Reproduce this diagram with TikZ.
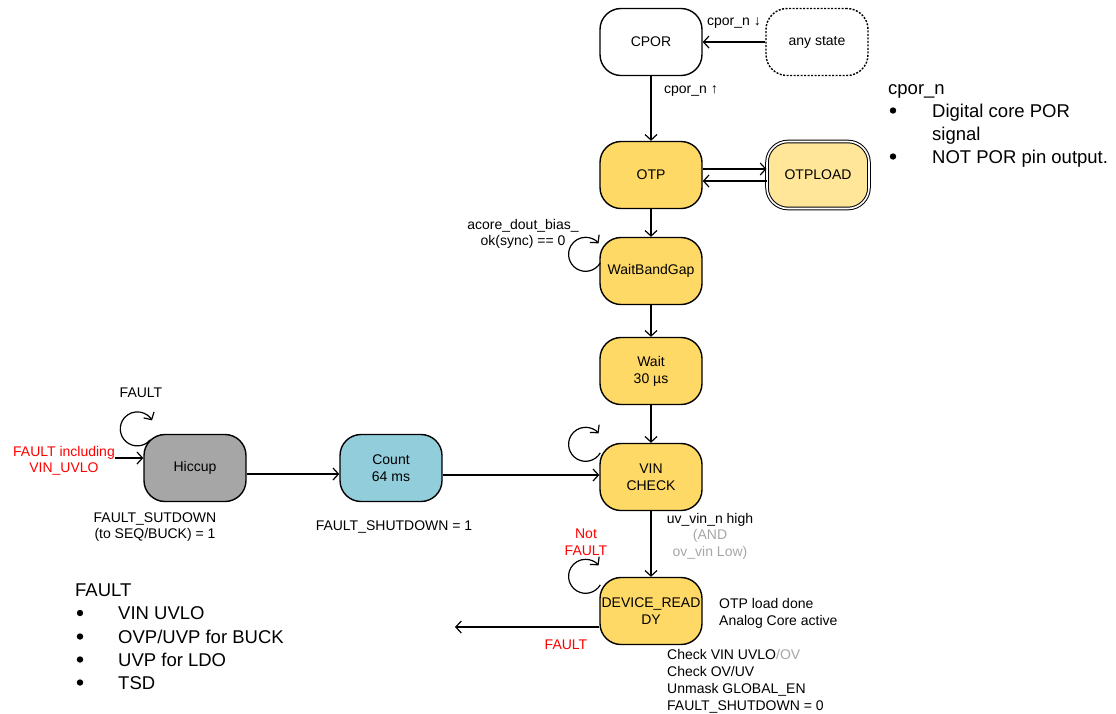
\documentclass[tikz,border=0pt]{standalone}
\usepackage{fontspec}
\setmainfont{Liberation Sans}
\usetikzlibrary{arrows.meta}
\definecolor{ylw}{HTML}{FFD966}
\definecolor{ylwl}{HTML}{FFE699}
\definecolor{gry}{HTML}{A6A6A6}
\definecolor{blu}{HTML}{92CDDC}
\definecolor{lg}{HTML}{A6A6A6}
\definecolor{rd}{HTML}{FF0000}
\begin{document}
\begin{tikzpicture}[x=1pt,y=-1pt,
  st/.style={draw=black, line width=1.4pt, rounded corners=21pt, minimum width=102pt, minimum height=67pt,
             align=center, font=\fontsize{14}{17}\selectfont, inner sep=0pt},
  arr/.style={line width=1.2pt, -{Straight Barb[length=5.5pt,width=12pt]}},
  lbl/.style={font=\fontsize{14}{16.5}\selectfont, align=center, inner sep=0pt},
  ln/.style={font=\fontsize{14}{17}\selectfont, anchor=base west, inner sep=0pt},
  big/.style={font=\fontsize{18.5}{23}\selectfont, anchor=base west, inner sep=0pt},
  bul/.style={fill=black},
]
\useasboundingbox (0,0) rectangle (1116,713);

% states
\node[st] (cpor) at (651,42) {CPOR};
\node[st, dash pattern=on 2pt off 1.5pt] (any) at (817,42) {any state};
\node[st, fill=ylw] (otp) at (651,175) {OTP};
\node[st, fill=ylwl, double, double distance=1.6pt, line width=1pt] (otpl) at (818,175) {OTPLOAD};
\node[st, fill=ylw] (wbg) at (651,271) {WaitBandGap};
\node[st, fill=ylw] (wait) at (651,371) {Wait\\30 µs};
\node[st, fill=ylw] (vin) at (651,477) {VIN\\CHECK};
\node[st, fill=ylw] (dev) at (651,611) {DEVICE\_READ\\DY};
\node[st, fill=gry] (hic) at (195,468) {Hiccup};
\node[st, fill=blu] (cnt) at (391,468) {Count\\64 ms};

% connectors
\draw[arr] (any) -- (cpor);
\draw[arr] (cpor) -- (otp);
\draw[arr] ([yshift=6pt]otp.east) -- ([yshift=6pt]otpl.west);
\draw[arr] ([yshift=-6pt]otpl.west) -- ([yshift=-6pt]otp.east);
\draw[arr] (otp) -- (wbg);
\draw[arr] (wbg) -- (wait);
\draw[arr] (wait) -- (vin);
\draw[arr] (vin) -- (dev);
\draw[arr] ([yshift=-6pt]hic.east) -- ([yshift=-6pt]cnt.west);
\draw[arr] ([yshift=-7pt]cnt.east) -- ([yshift=-7pt]cnt.east -| vin.west);
\coordinate (hin) at (115,458);
\draw[arr] (hin) -- (hin -| hic.west);
\coordinate (fout) at (455,627);
\draw[arr] (dev.west |- fout) -- (fout);

% self loops
\draw[arr] ([shift={(7,6)}]hic.north west) arc[start angle=40, end angle=330, radius=17];
\draw[arr] ([shift={(1,26)}]wbg.north west) arc[start angle=30, end angle=320, radius=17];
\draw[arr] ([shift={(1,10)}]vin.north west) arc[start angle=30, end angle=320, radius=17];
\draw[arr] ([shift={(1,8)}]dev.north west) arc[start angle=30, end angle=320, radius=17];

% labels
\node[lbl] at (734,23) {cpor\_n ↓};
\node[lbl] at (691,91) {cpor\_n ↑};
\node[lbl] at (523,234) {acore\_dout\_bias\_\\ok(sync) == 0};
\node[lbl] at (141,393) {FAULT};
\node[lbl, text=rd] at (64,461) {FAULT including\\VIN\_UVLO};
\node[lbl] at (155,527) {FAULT\_SUTDOWN\\(to SEQ/BUCK) = 1};
\node[lbl] at (394,527) {FAULT\_SHUTDOWN = 1};
\node[lbl] at (710,536) {uv\_vin\_n high\\\textcolor{lg}{(AND}\\\textcolor{lg}{ov\_vin Low)}};
\node[lbl, text=rd] at (586,542) {Not\\FAULT};
\node[lbl, text=rd] at (566,645) {FAULT};

\node[ln] at (719,608) {OTP load done};
\node[ln] at (719,625) {Analog Core active};
\node[ln] at (667,659) {Check VIN UVLO\textcolor{lg}{/OV}};
\node[ln] at (667,676) {Check OV/UV};
\node[ln] at (667,693) {Unmask GLOBAL\_EN};
\node[ln] at (667,710) {FAULT\_SHUTDOWN = 0};

% FAULT list
\node[big] at (75,596) {FAULT};
\fill[bul] (80,613) circle (3.2);
\fill[bul] (80,636.5) circle (3.2);
\fill[bul] (80,659.5) circle (3.2);
\fill[bul] (80,682.5) circle (3.2);
\node[big] at (118,619) {VIN UVLO};
\node[big] at (118,643) {OVP/UVP for BUCK};
\node[big] at (118,666) {UVP for LDO};
\node[big] at (118,689) {TSD};

% cpor_n list
\node[big] at (888,94) {cpor\_n};
\fill[bul] (893,110.5) circle (3.2);
\fill[bul] (893,156.5) circle (3.2);
\node[big] at (932,117) {Digital core POR};
\node[big] at (932,140) {signal};
\node[big] at (932,163) {NOT POR pin output.};
\end{tikzpicture}
\end{document}
